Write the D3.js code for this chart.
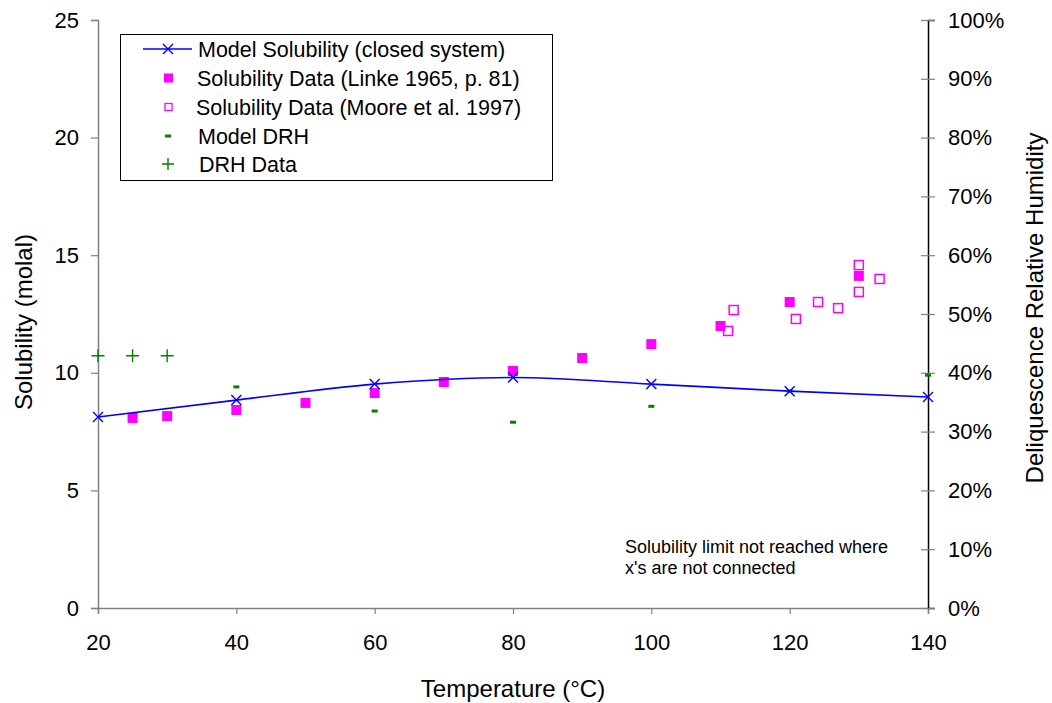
<!DOCTYPE html>
<html lang="en">
<head>
<meta charset="utf-8">
<script src="https://d3js.org/d3.v7.min.js"></script>
<style>
  body { margin: 0; background: white; }
  svg { font-family: 'Liberation Sans', Arial, sans-serif; }
  .tick text { font-size: 22px; fill: #000; }
  .axis-title { font-size: 24px; fill: #000; }
  .legend text { font-size: 21.5px; fill: #000; }
</style>
</head>
<body>
<svg width="1052" height="703"></svg>
<script>
// model solubility (closed system), molal
var modelT = [20, 40, 60, 80, 100, 120, 140];
var modelSol = [8.12, 8.84, 9.52, 9.8, 9.52, 9.22, 8.97];

// Linke 1965 solubility data
var linkeT = [25, 30, 40, 50, 60, 70, 80, 90, 100, 110, 120, 130];
var linkeSol = [8.08, 8.16, 8.42, 8.72, 9.14, 9.61, 10.08, 10.63, 11.22, 11.99, 13.01, 14.12];

// Moore et al. 1997 solubility data
var mooreT = [111.1, 111.9, 120.9, 124.1, 127, 130, 130, 133];
var mooreSol = [11.78, 12.67, 12.29, 13.01, 12.75, 13.44, 14.58, 13.99];

// model DRH (fraction)
var drhModelT = [40, 60, 80, 100, 120, 140];
var drhModel = [0.376, 0.335, 0.316, 0.343, 0.369, 0.396];

// DRH data
var drhDataT = [20, 25, 30];
var drhData = [0.429, 0.429, 0.429];

var svg = d3.select("svg");
var mLeft = 98, mRight = 928, mTop = 20, mBottom = 608;

var x = d3.scaleLinear().domain([20, 140]).range([mLeft, mRight]);
var y = d3.scaleLinear().domain([0, 25]).range([mBottom, mTop]);
var y2 = d3.scaleLinear().domain([0, 1]).range([mBottom, mTop]);

// axes
var xAxis = svg.append("g")
    .attr("transform", "translate(0," + mBottom + ")")
    .call(d3.axisBottom(x).tickValues(d3.range(20, 141, 20)).tickSize(6).tickPadding(20));
var yAxis = svg.append("g")
    .attr("transform", "translate(" + mLeft + ",0)")
    .call(d3.axisLeft(y).tickValues(d3.range(0, 26, 5)).tickSize(7).tickPadding(12));
var y2Axis = svg.append("g")
    .attr("transform", "translate(" + mRight + ",0)")
    .call(d3.axisRight(y2).tickValues(d3.range(0, 1.01, 0.1)).tickFormat(d3.format(".0%")).tickSize(7).tickPadding(13));

[xAxis, yAxis, y2Axis].forEach(function(g) {
  g.select(".domain").attr("stroke", "#808080").attr("stroke-width", 1.5);
  g.selectAll(".tick line").attr("stroke", "#808080").attr("stroke-width", 1.2);
  g.attr("font-family", null).attr("font-size", null);
});
y2Axis.select(".domain").attr("stroke", "#000");
y2Axis.selectAll(".tick line").attr("x1", -7);

// axis titles
svg.append("text").attr("class", "axis-title")
  .attr("transform", "translate(32," + ((mTop + mBottom) / 2 + 8) + ") rotate(-90)")
  .attr("text-anchor", "middle").text("Solubility (molal)");
svg.append("text").attr("class", "axis-title")
  .attr("transform", "translate(1043," + ((mTop + mBottom) / 2 - 6) + ") rotate(-90)")
  .attr("text-anchor", "middle").text("Deliquescence Relative Humidity");
svg.append("text").attr("class", "axis-title")
  .attr("x", (mLeft + mRight) / 2).attr("y", 697)
  .attr("text-anchor", "middle").text("Temperature (°C)");

// note
var note = svg.append("text").attr("x", 625).attr("y", 553).style("font-size", "18px");
note.append("tspan").text("Solubility limit not reached where");
note.append("tspan").attr("x", 625).attr("dy", 21).text("x's are not connected");

var blue = "#0000ff", pink = "#ff00ff", green = "#008000";

function xMark(g, cx, cy, s) {
  g.append("path")
    .attr("d", "M" + (cx - s) + "," + (cy - s) + "L" + (cx + s) + "," + (cy + s) +
               "M" + (cx - s) + "," + (cy + s) + "L" + (cx + s) + "," + (cy - s))
    .attr("stroke", blue).attr("stroke-width", 1.4).attr("fill", "none");
}
function plusMark(g, cx, cy, s) {
  g.append("path")
    .attr("d", "M" + (cx - s) + "," + cy + "L" + (cx + s) + "," + cy +
               "M" + cx + "," + (cy - s) + "L" + cx + "," + (cy + s))
    .attr("stroke", green).attr("stroke-width", 1.4).attr("fill", "none");
}
function dashMark(g, cx, cy) {
  g.append("rect").attr("x", cx - 3).attr("y", cy - 1.5).attr("width", 6).attr("height", 3).attr("fill", green);
}

var marks = svg.append("g");

// DRH data
drhDataT.forEach(function(t, i) { plusMark(marks, x(t), y2(drhData[i]), 6.5); });

// model DRH
drhModelT.forEach(function(t, i) { dashMark(marks, x(t), y2(drhModel[i])); });

// Moore open squares
mooreT.forEach(function(t, i) {
  marks.append("rect").attr("x", x(t) - 4.5).attr("y", y(mooreSol[i]) - 4.5)
    .attr("width", 9).attr("height", 9).attr("fill", "white")
    .attr("stroke", pink).attr("stroke-width", 1.5);
});

// Linke filled squares
linkeT.forEach(function(t, i) {
  marks.append("rect").attr("x", x(t) - 5).attr("y", y(linkeSol[i]) - 5)
    .attr("width", 10).attr("height", 10).attr("fill", pink);
});

// model line
var line = d3.line().x(function(d) { return x(d[0]); }).y(function(d) { return y(d[1]); })
  .curve(d3.curveMonotoneX);
marks.append("path").datum(modelT.map(function(t, i) { return [t, modelSol[i]]; }))
  .attr("d", line).attr("fill", "none").attr("stroke", blue).attr("stroke-width", 1.6);
modelT.forEach(function(t, i) { xMark(marks, x(t), y(modelSol[i]), 5); });

// legend
var lg = svg.append("g").attr("class", "legend");
lg.append("rect").attr("x", 120.5).attr("y", 34.5).attr("width", 432).attr("height", 146)
  .attr("fill", "white").attr("stroke", "#000").attr("stroke-width", 1);
var rowY = [49, 78, 107, 136, 164];
lg.append("line").attr("x1", 143).attr("x2", 192).attr("y1", rowY[0]).attr("y2", rowY[0])
  .attr("stroke", blue).attr("stroke-width", 1.4);
xMark(lg, 168, rowY[0], 5);
lg.append("rect").attr("x", 164).attr("y", rowY[1] - 4.5).attr("width", 9).attr("height", 9).attr("fill", pink);
lg.append("rect").attr("x", 165).attr("y", rowY[2] - 3.5).attr("width", 7).attr("height", 7)
  .attr("fill", "white").attr("stroke", pink).attr("stroke-width", 1.3);
dashMark(lg, 168, rowY[3]);
plusMark(lg, 168, rowY[4], 6);
var labels = ["Model Solubility (closed system)", "Solubility Data (Linke 1965, p. 81)",
  "Solubility Data (Moore et al. 1997)", "Model DRH", "DRH Data"];
var labelX = [198, 197, 196, 198, 199];
labels.forEach(function(s, i) {
  lg.append("text").attr("x", labelX[i]).attr("y", rowY[i]).attr("dy", "0.35em").text(s);
});
</script>
</body>
</html>
